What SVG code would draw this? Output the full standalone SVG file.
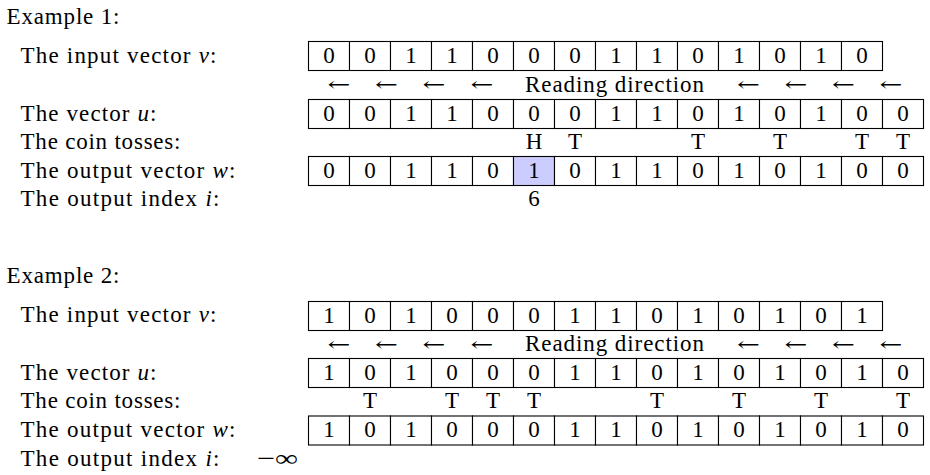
<svg xmlns="http://www.w3.org/2000/svg" width="930" height="475" viewBox="0 0 930 475">
<style>
text{font-family:"Liberation Serif","DejaVu Serif",serif;font-size:23px;fill:#000}
.c{text-anchor:middle}
.i{font-style:italic}
.a{font-family:"DejaVu Serif","DejaVu Sans",serif;font-size:26px;text-anchor:middle}
rect.cell{fill:#fff;stroke:#000;stroke-width:1.1}
rect.hl{fill:#ccccff;stroke:#000;stroke-width:1.1}
</style>
<defs>
<g id="c0"><rect class="cell" x="0" y="0" width="41" height="29"/><text class="c" x="20.5" y="21">0</text></g>
<g id="c1"><rect class="cell" x="0" y="0" width="41" height="29"/><text class="c" x="20.5" y="21">1</text></g>
<g id="arr"><text class="a" x="0" y="0" transform="scale(1.05,0.75)">←</text></g>
</defs>
<rect width="930" height="475" fill="#fff"/>

<!-- Example 1 -->
<g id="example1">
<text x="6.5" y="23.5" textLength="113" lengthAdjust="spacing">Example 1:</text>
<g id="ex1-labels">
<text x="20.5" y="62.5" textLength="196" lengthAdjust="spacing">The input vector <tspan class="i">v</tspan>:</text>
<text x="20.5" y="120.5" textLength="136" lengthAdjust="spacing">The vector <tspan class="i">u</tspan>:</text>
<text x="20.5" y="149" textLength="160" lengthAdjust="spacing">The coin tosses:</text>
<text x="20.5" y="177.5" textLength="215" lengthAdjust="spacing">The output vector <tspan class="i">w</tspan>:</text>
<text x="20.5" y="206" textLength="199" lengthAdjust="spacing">The output index <tspan class="i">i</tspan>:</text>
</g>
<g id="ex1-v" transform="translate(308.5,41.5)">
<use href="#c0" x="0"/><use href="#c0" x="41"/><use href="#c1" x="82"/><use href="#c1" x="123"/><use href="#c0" x="164"/><use href="#c0" x="205"/><use href="#c0" x="246"/><use href="#c1" x="287"/><use href="#c1" x="328"/><use href="#c0" x="369"/><use href="#c1" x="410"/><use href="#c0" x="451"/><use href="#c1" x="492"/><use href="#c0" x="533"/>
</g>
<g id="ex1-direction">
<use href="#arr" x="339" y="91"/><use href="#arr" x="386.5" y="91"/><use href="#arr" x="434" y="91"/><use href="#arr" x="482" y="91"/>
<text x="525" y="91.5" textLength="179" lengthAdjust="spacing">Reading direction</text>
<use href="#arr" x="748.5" y="91"/><use href="#arr" x="796" y="91"/><use href="#arr" x="843.5" y="91"/><use href="#arr" x="891" y="91"/>
</g>
<g id="ex1-u" transform="translate(308.5,99.5)">
<use href="#c0" x="0"/><use href="#c0" x="41"/><use href="#c1" x="82"/><use href="#c1" x="123"/><use href="#c0" x="164"/><use href="#c0" x="205"/><use href="#c0" x="246"/><use href="#c1" x="287"/><use href="#c1" x="328"/><use href="#c0" x="369"/><use href="#c1" x="410"/><use href="#c0" x="451"/><use href="#c1" x="492"/><use href="#c0" x="533"/><use href="#c0" x="574"/>
</g>
<g id="ex1-coins">
<text class="c" x="534" y="149">H</text><text class="c" x="575" y="149">T</text><text class="c" x="698" y="149">T</text><text class="c" x="780" y="149">T</text><text class="c" x="862" y="149">T</text><text class="c" x="903" y="149">T</text>
</g>
<g id="ex1-w" transform="translate(308.5,156.5)">
<use href="#c0" x="0"/><use href="#c0" x="41"/><use href="#c1" x="82"/><use href="#c1" x="123"/><use href="#c0" x="164"/>
<rect class="hl" x="205" y="0" width="41" height="29"/><text class="c" x="225.5" y="21">1</text>
<use href="#c0" x="246"/><use href="#c1" x="287"/><use href="#c1" x="328"/><use href="#c0" x="369"/><use href="#c1" x="410"/><use href="#c0" x="451"/><use href="#c1" x="492"/><use href="#c0" x="533"/><use href="#c0" x="574"/>
</g>
<g id="ex1-index"><text class="c" x="534" y="206">6</text></g>
</g>

<!-- Example 2 -->
<g id="example2">
<text x="6.5" y="283" textLength="113" lengthAdjust="spacing">Example 2:</text>
<g id="ex2-labels">
<text x="20.5" y="322" textLength="196" lengthAdjust="spacing">The input vector <tspan class="i">v</tspan>:</text>
<text x="20.5" y="379.5" textLength="136" lengthAdjust="spacing">The vector <tspan class="i">u</tspan>:</text>
<text x="20.5" y="408" textLength="160" lengthAdjust="spacing">The coin tosses:</text>
<text x="20.5" y="437" textLength="215" lengthAdjust="spacing">The output vector <tspan class="i">w</tspan>:</text>
<text x="20.5" y="466" textLength="199" lengthAdjust="spacing">The output index <tspan class="i">i</tspan>:</text>
<text x="257" y="466" textLength="41" lengthAdjust="spacingAndGlyphs">−∞</text>
</g>
<g id="ex2-v" transform="translate(308.5,301.5)">
<use href="#c1" x="0"/><use href="#c0" x="41"/><use href="#c1" x="82"/><use href="#c0" x="123"/><use href="#c0" x="164"/><use href="#c0" x="205"/><use href="#c1" x="246"/><use href="#c1" x="287"/><use href="#c0" x="328"/><use href="#c1" x="369"/><use href="#c0" x="410"/><use href="#c1" x="451"/><use href="#c0" x="492"/><use href="#c1" x="533"/>
</g>
<g id="ex2-direction">
<use href="#arr" x="339" y="350.5"/><use href="#arr" x="386.5" y="350.5"/><use href="#arr" x="434" y="350.5"/><use href="#arr" x="482" y="350.5"/>
<text x="525" y="351" textLength="179" lengthAdjust="spacing">Reading direction</text>
<use href="#arr" x="748.5" y="350.5"/><use href="#arr" x="796" y="350.5"/><use href="#arr" x="843.5" y="350.5"/><use href="#arr" x="891" y="350.5"/>
</g>
<g id="ex2-u" transform="translate(308.5,358.5)">
<use href="#c1" x="0"/><use href="#c0" x="41"/><use href="#c1" x="82"/><use href="#c0" x="123"/><use href="#c0" x="164"/><use href="#c0" x="205"/><use href="#c1" x="246"/><use href="#c1" x="287"/><use href="#c0" x="328"/><use href="#c1" x="369"/><use href="#c0" x="410"/><use href="#c1" x="451"/><use href="#c0" x="492"/><use href="#c1" x="533"/><use href="#c0" x="574"/>
</g>
<g id="ex2-coins">
<text class="c" x="370" y="408">T</text><text class="c" x="452" y="408">T</text><text class="c" x="493" y="408">T</text><text class="c" x="534" y="408">T</text><text class="c" x="657" y="408">T</text><text class="c" x="739" y="408">T</text><text class="c" x="821" y="408">T</text><text class="c" x="903" y="408">T</text>
</g>
<g id="ex2-w" transform="translate(308.5,416)">
<use href="#c1" x="0"/><use href="#c0" x="41"/><use href="#c1" x="82"/><use href="#c0" x="123"/><use href="#c0" x="164"/><use href="#c0" x="205"/><use href="#c1" x="246"/><use href="#c1" x="287"/><use href="#c0" x="328"/><use href="#c1" x="369"/><use href="#c0" x="410"/><use href="#c1" x="451"/><use href="#c0" x="492"/><use href="#c1" x="533"/><use href="#c0" x="574"/>
</g>
</g>
</svg>
